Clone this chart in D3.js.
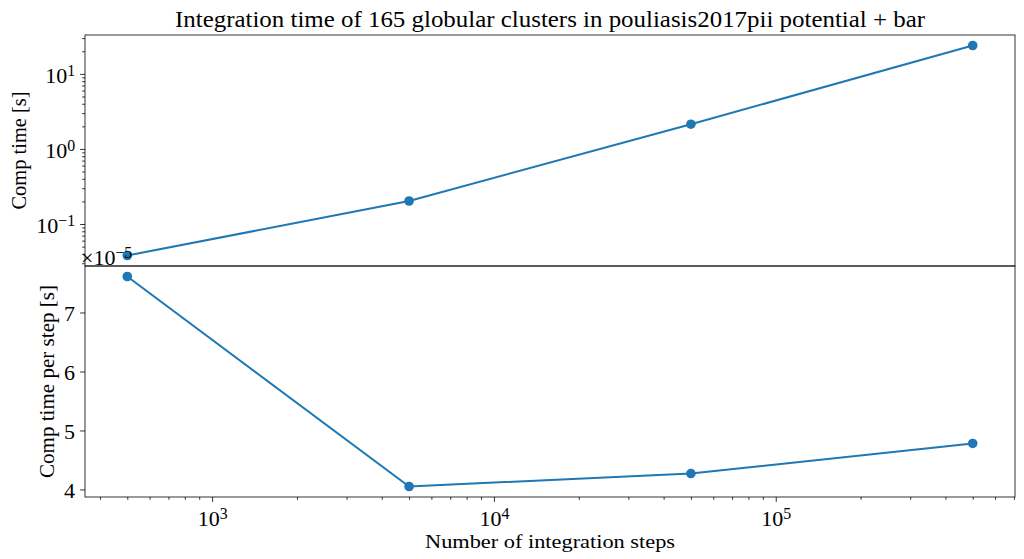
<!DOCTYPE html>
<html><head><meta charset="utf-8">
<script src="https://cdn.jsdelivr.net/npm/d3@7"></script>
<style>
body{margin:0;background:#fff;}
text{font-family:"Liberation Serif","DejaVu Serif",serif;fill:#000;}
</style></head>
<body><svg id="c" width="1024" height="559"></svg>
<script>
const steps = [500, 5000, 50000, 500000];
const compTime = [0.03805, 0.2025, 2.135, 23.9];
const perStep = [7.61, 4.05, 4.27, 4.78]; // in units of 1e-5 s
const xMajorTicks = [1e3, 1e4, 1e5];
const yTopTicks = [0.1, 1, 10];
const yBotTicks = [4, 5, 6, 7];
const title = "Integration time of 165 globular clusters in pouliasis2017pii potential + bar";
const xLabel = "Number of integration steps";
const yTopLabel = "Comp time [s]";
const yBotLabel = "Comp time per step [s]";
const color = "#1f77b4";

const svg = d3.select("#c");
const L = 85, R = 1015, T1 = 35, B1 = 266, T2 = 266, B2 = 497;

function logPad(vals, frac){
  const a = Math.log10(d3.min(vals)), b = Math.log10(d3.max(vals)), m=(b-a)*frac;
  return [Math.pow(10,a-m), Math.pow(10,b+m)];
}
function linPad(vals, frac){
  const a = d3.min(vals), b = d3.max(vals), m=(b-a)*frac;
  return [a-m, b+m];
}
const x = d3.scaleLog().domain(logPad(steps,0.05)).range([L,R]);
const y1 = d3.scaleLog().domain(logPad(compTime,0.05)).range([B1,T1]);
const y2 = d3.scaleLinear().domain(linPad(perStep,0.05)).range([B2,T2]);

function minorLog(domain){
  const out=[];
  const e0=Math.floor(Math.log10(domain[0])), e1=Math.ceil(Math.log10(domain[1]));
  for(let e=e0;e<=e1;e++) for(let k=2;k<=9;k++){const v=k*Math.pow(10,e); if(v>=domain[0]&&v<=domain[1]) out.push(v);}
  return out;
}
function supLabel(sel, base, exp){
  sel.text(null);
  sel.append("tspan").text(base);
  sel.append("tspan").attr("dy","-0.45em").attr("font-size","0.72em").text(exp);
}
const TF = 22;

// Top axes
const gTop = svg.append("g");
gTop.append("g").attr("transform",`translate(${L},0)`)
  .call(d3.axisLeft(y1).tickValues(minorLog(y1.domain())).tickSize(2.8).tickFormat(""))
  .call(g=>g.select(".domain").remove());
gTop.append("g").attr("transform",`translate(${L},0)`)
  .call(d3.axisLeft(y1).tickValues(yTopTicks).tickSize(4.9).tickPadding(5))
  .call(g=>g.select(".domain").remove())
  .call(g=>g.selectAll(".tick text").attr("font-size",TF).attr("dy","0.4em")
     .each(function(d){supLabel(d3.select(this),"10",String(Math.round(Math.log10(d))).replace("-","\u2212"));}));
gTop.selectAll(".tick line").attr("stroke","#000").attr("stroke-width",0.8);
gTop.append("rect").attr("x",L).attr("y",T1).attr("width",R-L).attr("height",B1-T1)
  .attr("fill","none").attr("stroke","#000").attr("stroke-width",0.8);
const line1 = d3.line().x((d,i)=>x(steps[i])).y(d=>y1(d));
gTop.append("path").datum(compTime).attr("d",line1).attr("fill","none").attr("stroke",color).attr("stroke-width",2);
gTop.selectAll("circle").data(compTime).join("circle")
  .attr("cx",(d,i)=>x(steps[i])).attr("cy",d=>y1(d)).attr("r",4.8).attr("fill",color);

// Bottom axes
const gBot = svg.append("g");
gBot.append("g").attr("transform",`translate(${L},0)`)
  .call(d3.axisLeft(y2).tickValues(yBotTicks).tickSize(4.9).tickPadding(5).tickFormat(d3.format("d")))
  .call(g=>g.select(".domain").remove())
  .call(g=>g.selectAll(".tick text").attr("font-size",TF).attr("dy","0.35em"));
gBot.append("g").attr("transform",`translate(0,${B2})`)
  .call(d3.axisBottom(x).tickValues(minorLog(x.domain())).tickSize(2.8).tickFormat(""))
  .call(g=>g.select(".domain").remove());
gBot.append("g").attr("transform",`translate(0,${B2})`)
  .call(d3.axisBottom(x).tickValues(xMajorTicks).tickSize(4.9).tickPadding(5))
  .call(g=>g.select(".domain").remove())
  .call(g=>g.selectAll(".tick text").attr("font-size",TF).attr("dy","0.86em")
     .each(function(d){supLabel(d3.select(this),"10",String(Math.round(Math.log10(d))));}));
gBot.selectAll(".tick line").attr("stroke","#000").attr("stroke-width",0.8);
gBot.append("rect").attr("x",L).attr("y",T2).attr("width",R-L).attr("height",B2-T2)
  .attr("fill","none").attr("stroke","#000").attr("stroke-width",0.8);
const line2 = d3.line().x((d,i)=>x(steps[i])).y(d=>y2(d));
gBot.append("path").datum(perStep).attr("d",line2).attr("fill","none").attr("stroke",color).attr("stroke-width",2);
gBot.selectAll("circle").data(perStep).join("circle")
  .attr("cx",(d,i)=>x(steps[i])).attr("cy",d=>y2(d)).attr("r",4.8).attr("fill",color);

// offset text
const off = svg.append("text").attr("x",L-4).attr("y",T2-1).attr("font-size",TF);
off.append("tspan").text("\u00d710");
off.append("tspan").attr("dy","-0.45em").attr("font-size","0.72em").text("\u22125");

// Titles
svg.append("text").attr("x",(L+R)/2).attr("y",27).attr("text-anchor","middle").attr("font-size",24)
  .attr("textLength",750).attr("lengthAdjust","spacingAndGlyphs").text(title);
svg.append("text").attr("x",(L+R)/2).attr("y",548).attr("text-anchor","middle").attr("font-size",19)
  .attr("textLength",250).attr("lengthAdjust","spacingAndGlyphs").text(xLabel);
svg.append("text").attr("transform",`translate(26,${(T1+B1)/2}) rotate(-90)`).attr("text-anchor","middle").attr("font-size",20)
  .attr("textLength",118).attr("lengthAdjust","spacingAndGlyphs").text(yTopLabel);
svg.append("text").attr("transform",`translate(54,${(T2+B2)/2}) rotate(-90)`).attr("text-anchor","middle").attr("font-size",20)
  .attr("textLength",193).attr("lengthAdjust","spacingAndGlyphs").text(yBotLabel);
</script></body></html>
